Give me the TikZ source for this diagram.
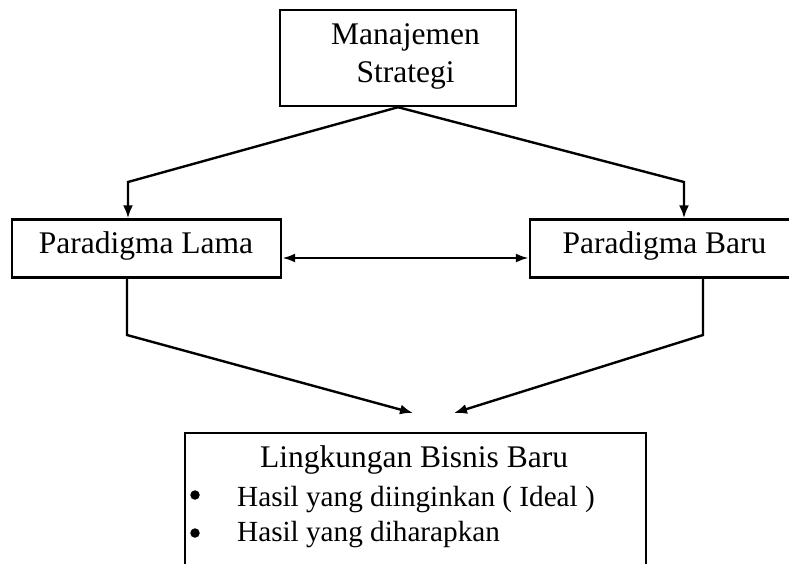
\documentclass[tikz,border=0pt]{standalone}
\usepackage{fontspec}
\setmainfont{Liberation Serif}
\usetikzlibrary{arrows.meta}
\tikzset{
  box/.style={draw, line width=2.4pt, rectangle, inner sep=0pt, align=center,
    font=\fontsize{31.5}{38}\selectfont},
  conn/.style={line width=2.4pt, line join=miter},
  arr/.style={conn, -{Latex[length=13pt,width=10pt]}},
  dbl/.style={conn, {Latex[length=13pt,width=9pt]}-{Latex[length=13pt,width=9pt]}},
  txt/.style={inner sep=0pt, font=\fontsize{31.5}{38}\selectfont},
  itemtxt/.style={inner sep=0pt, anchor=base west, font=\fontsize{29.2}{35}\selectfont},
  dot/.style={circle, fill, inner sep=0pt, minimum size=9.5pt}
}
\begin{document}
\begin{tikzpicture}[x=1pt,y=-1pt]
\clip (0,0) rectangle (789,563);
\fill[white] (0,0) rectangle (789,563);
\node[box, minimum width=236, minimum height=96] (top) at (398,58) {};
\node[txt, anchor=base] (toptxt1) at (405.5,44) {Manajemen};
\node[txt, anchor=base] (toptxt2) at (405.5,82) {Strategi};
\node[box, minimum width=269, minimum height=58] (lama) at (146.5,248.5) {};
\node[txt, anchor=base] (lamatxt) at (146,253) {Paradigma Lama};
\node[box, minimum width=270, minimum height=58] (baru) at (665,248.5) {};
\node[txt, anchor=base] (barutxt) at (664.5,253) {Paradigma Baru};
\node[box, minimum width=461, minimum height=200, anchor=north west] (env) at (184,432) {};
\node[txt, anchor=base] (envtitle) at (414,467) {Lingkungan Bisnis Baru};
\node[dot] (b1) at (195,495) {};
\node[dot] (b2) at (195,533) {};
\node[itemtxt] (i1) at (237,506) {Hasil yang diinginkan ( Ideal )};
\node[itemtxt] (i2) at (237,541) {Hasil yang diharapkan};
\coordinate (kl) at (128,182);
\coordinate (kr) at (684,182);
\coordinate (m) at (400,258);
\coordinate (bl) at (127,335);
\coordinate (br) at (703,335);
\coordinate (tl) at (413,413);
\coordinate (tr) at (454,413);
\draw[arr] (top.south) -- (kl) -- (kl |- lama.north);
\draw[arr] (top.south) -- (kr) -- (kr |- baru.north);
\draw[dbl] (lama.east |- m) -- (baru.west |- m);
\draw[arr] (bl |- lama.south) -- (bl) -- (tl);
\draw[arr] (br |- baru.south) -- (br) -- (tr);
\end{tikzpicture}
\end{document}
